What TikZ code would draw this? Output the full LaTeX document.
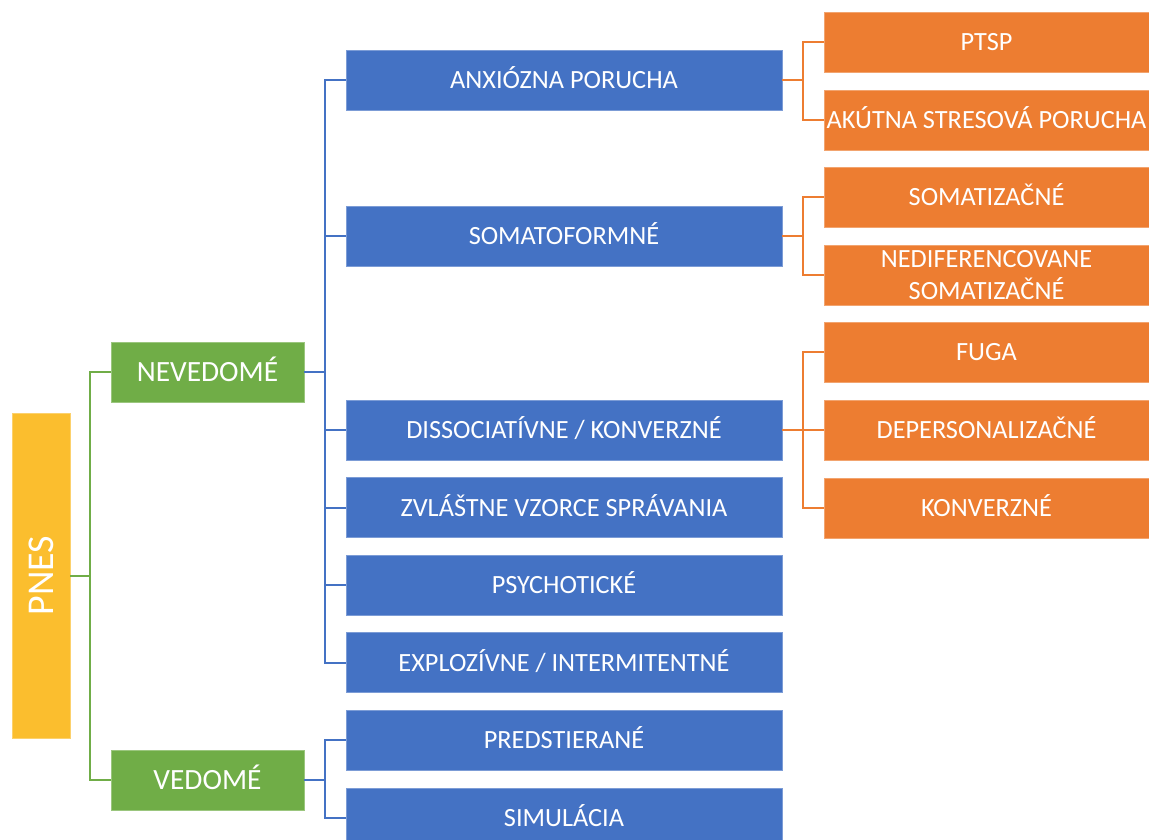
\documentclass[tikz,border=0pt]{standalone}
\usepackage{fontspec}
\setmainfont{Carlito}
\definecolor{cblue}{HTML}{4472C4}
\definecolor{corange}{HTML}{ED7D31}
\definecolor{cgreen}{HTML}{70AD47}
\definecolor{cgold}{HTML}{FBBE2E}
\begin{document}
\begin{tikzpicture}[x=1bp,y=-1bp,
  box/.style={rectangle, inner sep=0pt, text=white, align=center, line width=0.8bp,
    font=\fontsize{26.4}{33}\selectfont, text height=17bp, text depth=0pt},
  bluebox/.style={box, fill=cblue, draw=cblue!70!white, minimum width=436bp, minimum height=60bp},
  orbox/.style={box, fill=corange, draw=corange!70!white, minimum width=325bp, minimum height=60bp},
  grbox/.style={box, fill=cgreen, draw=cgreen!70!white, minimum width=193bp, minimum height=60bp,
    font=\fontsize{29.5}{34}\selectfont, text height=19bp},
  gdbox/.style={box, fill=cgold, draw=cgold!70!white, minimum width=58bp, minimum height=325bp},
  gline/.style={draw=cgreen, line width=2bp},
  bline/.style={draw=cblue, line width=2bp},
  oline/.style={draw=corange, line width=2bp}]
\useasboundingbox (0,0) rectangle (1149,840);
% root
\node[gdbox] (pnes) at (41,575.5) {};
\node[rotate=90, text=white, font=\fontsize{38}{40}\selectfont, inner sep=0pt] (pnest) at (pnes.center) {PNES};
% level 1
\node[grbox] (nev) at (207.5,372) {NEVEDOMÉ};
\node[grbox] (ved) at (207.5,780) {VEDOMÉ};
% level 2
\node[bluebox] (anx) at (564,80) {ANXIÓZNA PORUCHA};
\node[bluebox] (som) at (564,236) {SOMATOFORMNÉ};
\node[bluebox] (dis) at (564,430) {DISSOCIATÍVNE / KONVERZNÉ};
\node[bluebox] (zvl) at (564,507.5) {ZVLÁŠTNE VZORCE SPRÁVANIA};
\node[bluebox] (psy) at (564,585) {PSYCHOTICKÉ};
\node[bluebox] (exp) at (564,662.5) {EXPLOZÍVNE / INTERMITENTNÉ};
\node[bluebox] (pre) at (564,740) {PREDSTIERANÉ};
\node[bluebox] (sim) at (564,818) {SIMULÁCIA};
% level 3
\node[orbox] (ptsp) at (986.5,42) {PTSP};
\node[orbox] (aku) at (986.5,120) {AKÚTNA STRESOVÁ PORUCHA};
\node[orbox] (soz) at (986.5,197) {SOMATIZAČNÉ};
\node[orbox, text height={}, text depth={}] (ned) at (986.5,275) {NEDIFERENCOVANE\\SOMATIZAČNÉ};
\node[orbox] (fug) at (986.5,352) {FUGA};
\node[orbox] (dep) at (986.5,430) {DEPERSONALIZAČNÉ};
\node[orbox] (kon) at (986.5,508) {KONVERZNÉ};
% connectors
\draw[gline] (pnes.east) -- ++(20,0) |- (nev.west);
\draw[gline] (pnes.east) -- ++(20,0) |- (ved.west);
\foreach \c in {anx,som,dis,zvl,psy,exp}
  \draw[bline] (nev.east) -- ++(21,0) |- (\c.west);
\foreach \c in {pre,sim}
  \draw[bline] (ved.east) -- ++(21,0) |- (\c.west);
\foreach \c in {ptsp,aku}
  \draw[oline] (anx.east) -- ++(21,0) |- (\c.west);
\foreach \c in {soz,ned}
  \draw[oline] (som.east) -- ++(21,0) |- (\c.west);
\foreach \c in {fug,dep,kon}
  \draw[oline] (dis.east) -- ++(21,0) |- (\c.west);
\end{tikzpicture}
\end{document}
